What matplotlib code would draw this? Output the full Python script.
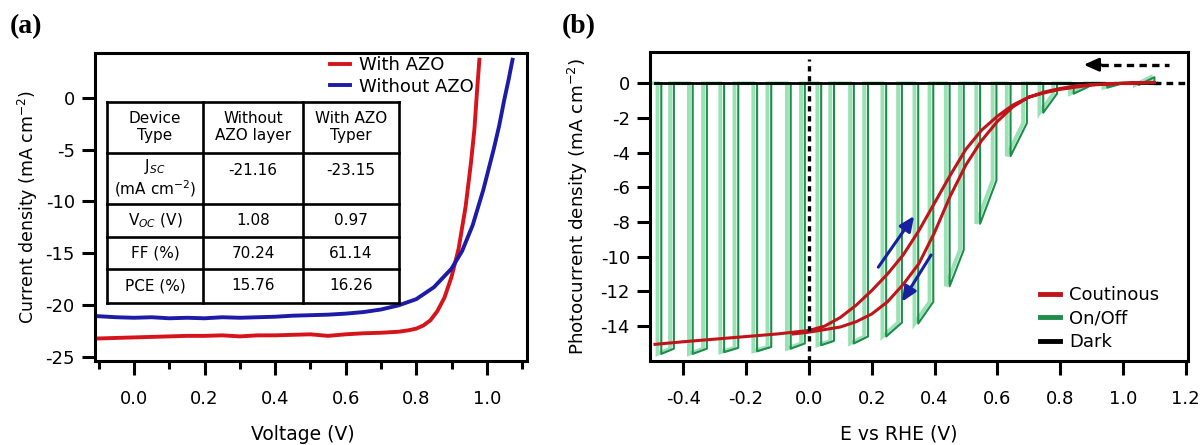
import matplotlib
matplotlib.use("Agg")
import matplotlib.pyplot as plt
from matplotlib.lines import Line2D

plt.rcParams['font.family'] = ['DejaVu Sans']
plt.rcParams['axes.unicode_minus'] = False

# ---------------- data: panel (a) ----------------
v_with = [-0.10, -0.05, 0.00, 0.05, 0.10, 0.15, 0.20, 0.25, 0.30, 0.35, 0.40, 0.45,
          0.50, 0.55, 0.60, 0.65, 0.70, 0.75, 0.78, 0.80, 0.82, 0.84, 0.86, 0.88,
          0.90, 0.92, 0.94, 0.955, 0.965, 0.972, 0.979]
j_with = [-23.25, -23.2, -23.15, -23.1, -23.05, -23.0, -23.0, -22.95, -23.05, -22.95,
          -22.95, -22.9, -22.85, -23.0, -22.85, -22.75, -22.7, -22.6, -22.45, -22.3,
          -22.0, -21.5, -20.6, -19.3, -17.3, -14.6, -10.5, -6.3, -3.0, 0.5, 3.7]

v_without = [-0.10, -0.05, 0.00, 0.05, 0.10, 0.15, 0.20, 0.25, 0.30, 0.35, 0.40, 0.45,
             0.50, 0.55, 0.60, 0.65, 0.70, 0.75, 0.80, 0.85, 0.90, 0.93, 0.96, 0.99,
             1.02, 1.035, 1.05, 1.062, 1.073]
j_without = [-21.1, -21.2, -21.25, -21.2, -21.3, -21.25, -21.3, -21.2, -21.25, -21.2,
             -21.15, -21.05, -21.0, -20.95, -20.85, -20.7, -20.45, -20.05, -19.45, -18.3,
             -16.5, -14.8, -12.3, -8.9, -4.9, -2.7, -0.1, 1.8, 3.7]

table_rows = [
    ["Device\nType", "Without\nAZO layer", "With AZO\nTyper"],
    ["J$_{SC}$\n(mA cm$^{-2}$)", "-21.16", "-23.15"],
    ["V$_{OC}$ (V)", "1.08", "0.97"],
    ["FF (%)", "70.24", "61.14"],
    ["PCE (%)", "15.76", "16.26"],
]

# ---------------- data: panel (b) ----------------
# continuous scan, forward branch (upper/left) and return branch (lower/right)
e_fwd = [-0.49, -0.4, -0.3, -0.2, -0.1, 0.0, 0.05, 0.1, 0.15, 0.2, 0.25, 0.3, 0.35,
         0.4, 0.45, 0.5, 0.55, 0.6, 0.65, 0.7, 0.75, 0.8, 0.85, 0.9, 1.0, 1.1]
j_fwd = [-15.05, -14.9, -14.75, -14.6, -14.45, -14.25, -14.0, -13.5, -12.8, -11.95,
         -11.0, -9.9, -8.5, -6.9, -5.3, -3.8, -2.7, -1.9, -1.25, -0.8, -0.5, -0.3,
         -0.15, -0.08, 0.0, 0.05]
e_rev = [1.1, 1.0, 0.9, 0.8, 0.75, 0.7, 0.65, 0.6, 0.55, 0.5, 0.45, 0.4, 0.35, 0.3,
         0.25, 0.2, 0.15, 0.1, 0.05, 0.0, -0.05]
j_rev = [0.05, 0.0, -0.1, -0.35, -0.55, -0.8, -1.35, -2.2, -3.3, -4.7, -6.5, -8.6,
         -10.4, -11.6, -12.6, -13.3, -13.75, -14.05, -14.2, -14.35, -14.45]

# chopped-light pulses: left edge potential / current, right edge potential / current
pulse_xl = [-0.47, -0.37, -0.27, -0.165, -0.058, 0.039, 0.143, 0.246, 0.348, 0.448,
            0.545, 0.642, 0.746, 0.843, 0.95, 1.05]
pulse_jl = [-15.6, -15.6, -15.5, -15.45, -15.3, -15.1, -15.0, -14.6, -13.85, -11.7,
            -8.1, -4.2, -1.7, -0.6, -0.25, -0.1]
pulse_xr = [-0.43, -0.325, -0.225, -0.12, -0.013, 0.080, 0.188, 0.296, 0.396, 0.493,
            0.597, 0.694, 0.79, 0.89, 0.99, 1.1]
pulse_jr = [-15.3, -15.3, -15.25, -15.2, -15.0, -14.85, -14.6, -13.8, -12.6, -9.6,
            -5.6, -2.3, -0.6, -0.2, -0.05, 0.35]

e_dark = [-0.49, 1.1]
j_dark = [0.0, 0.0]

# ---------------- figure ----------------
W, H = 1200, 445
fig = plt.figure(figsize=(12, 4.45), dpi=100)


def fx(px):
    return px / W


def fy(py):
    return 1 - py / H


red_a = '#d5141c'
blue_a = '#1c1ca8'
red_b = '#c0141a'
green_d = '#1e8c4b'
green_l = '#6fd596'
navy = '#1820a0'

# ----- panel (a) -----
ax1 = fig.add_axes([fx(95), fy(361), fx(527) - fx(95), fy(52.7) - fy(361)])
ax1.plot(v_with, j_with, color=red_a, lw=2.8, label='With AZO', zorder=3)
ax1.plot(v_without, j_without, color=blue_a, lw=2.8, label='Without AZO', zorder=3)
ax1.set_xlim(-0.1106, 1.114)
ax1.set_ylim(-25.43, 4.38)
ax1.set_xticks([0.0, 0.2, 0.4, 0.6, 0.8, 1.0])
ax1.set_xticklabels(['0.0', '0.2', '0.4', '0.6', '0.8', '1.0'])
ax1.set_xticks([-0.1, 0.1, 0.3, 0.5, 0.7, 0.9, 1.1], minor=True)
ax1.set_yticks([0, -5, -10, -15, -20, -25])
ax1.set_yticklabels(['0', '-5', '-10', '-15', '-20', '-25'])

# table
tx = [106.7, 203.3, 302.7, 399]
ty = [101.7, 152.7, 204, 236.7, 269.3, 302.7]


def ax1_x(px):
    return (px - 95) / (527 - 95)


def ax1_y(py):
    return (361 - py) / (361 - 52.7)


tr = ax1.transAxes
for x in tx:
    ax1.plot([ax1_x(x)] * 2, [ax1_y(ty[0]), ax1_y(ty[-1])], color='black', lw=1.9,
             transform=tr, zorder=5, solid_capstyle='projecting')
for y in ty:
    ax1.plot([ax1_x(tx[0]), ax1_x(tx[-1])], [ax1_y(y)] * 2, color='black', lw=1.9,
             transform=tr, zorder=5, solid_capstyle='projecting')
for r, row in enumerate(table_rows):
    for c, txt in enumerate(row):
        xc = ax1_x((tx[c] + tx[c + 1]) / 2)
        if r == 1 and c > 0:
            yc = ax1_y(ty[r] + 18)
        else:
            yc = ax1_y((ty[r] + ty[r + 1]) / 2)
        ax1.text(xc, yc, txt, transform=tr, ha='center', va='center', fontsize=11,
                 linespacing=1.15, zorder=6)

ax1.legend(loc='upper left', bbox_to_anchor=(ax1_x(330), ax1_y(56)),
           frameon=False, fontsize=13, handlelength=1.1, handletextpad=0.5,
           labelspacing=0.2, borderpad=0, borderaxespad=0)

# ----- panel (b) -----
ax2 = fig.add_axes([fx(650), fy(361), fx(1188) - fx(650), fy(51.7) - fy(361)])

# chopped trace path
px_path = [-0.49]
py_path = [0.0]
for xl, jl, xr, jr in zip(pulse_xl, pulse_jl, pulse_xr, pulse_jr):
    px_path += [xl, xl, xr, xr]
    py_path += [0.0, jl, jr, 0.0]
px_path.append(1.12)
py_path.append(0.0)

ax2.plot([x - 0.012 for x in px_path], py_path, color=green_l, lw=2.8, alpha=0.7,
         zorder=2, solid_joinstyle='miter')
ax2.plot(px_path, py_path, color=green_d, lw=1.5, zorder=3)

# dark
ax2.plot(e_dark, j_dark, color='black', lw=2.0, zorder=4)
ax2.plot([1.1, 1.207], [0, 0], color='black', lw=2.4, ls=(0, (2.0, 1.6)), zorder=4)
ax2.axvline(0, ymin=0, ymax=(1.4 + 16.01) / (1.82 + 16.01), color='black', lw=2.4,
            ls=(0, (1.6, 1.4)), zorder=6)

# continuous
ax2.plot(e_fwd + e_rev, j_fwd + j_rev, color=red_b, lw=2.2, zorder=5)

# blue hysteresis arrows
ax2.annotate('', xy=(0.335, -7.65), xytext=(0.221, -10.6),
             arrowprops=dict(arrowstyle='-|>,head_length=0.9,head_width=0.4',
                             color=navy, lw=2.2, shrinkA=0, shrinkB=0), zorder=7)
ax2.annotate('', xy=(0.296, -12.6), xytext=(0.389, -9.9),
             arrowprops=dict(arrowstyle='-|>,head_length=0.9,head_width=0.4',
                             color=navy, lw=2.2, shrinkA=0, shrinkB=0), zorder=7)

# scan-direction arrow
ax2.plot([0.93, 1.145], [1.07, 1.07], color='black', lw=2.4, ls=(0, (2.2, 1.6)), zorder=6)
ax2.annotate('', xy=(0.875, 1.07), xytext=(0.93, 1.07),
             arrowprops=dict(arrowstyle='-|>,head_length=0.9,head_width=0.4',
                             color='black', lw=2.0, shrinkA=0, shrinkB=0), zorder=6)

ax2.set_xlim(-0.506, 1.207)
ax2.set_ylim(-16.01, 1.82)
ax2.set_xticks([-0.4, -0.2, 0.0, 0.2, 0.4, 0.6, 0.8, 1.0, 1.2])
ax2.set_xticklabels(['-0.4', '-0.2', '0.0', '0.2', '0.4', '0.6', '0.8', '1.0', '1.2'])
ax2.set_yticks([0, -2, -4, -6, -8, -10, -12, -14])
ax2.set_yticklabels(['0', '-2', '-4', '-6', '-8', '-10', '-12', '-14'])

handles = [Line2D([], [], color=red_b, lw=3.5),
           Line2D([], [], color=green_d, lw=3.5),
           Line2D([], [], color='black', lw=3.5)]


def ax2_x(px):
    return (px - 650) / (1188 - 650)


def ax2_y(py):
    return (361 - py) / (361 - 51.7)


ax2.legend(handles, ['Coutinous', 'On/Off', 'Dark'], loc='upper left',
           bbox_to_anchor=(ax2_x(1040), ax2_y(286)), frameon=False, fontsize=13,
           handlelength=1.1, handletextpad=0.5, labelspacing=0.3, borderpad=0,
           borderaxespad=0)

for ax in (ax1, ax2):
    for s in ax.spines.values():
        s.set_linewidth(2.2)
    ax.tick_params(axis='both', which='major', direction='out', width=2.2,
                   labelsize=13)
    ax.tick_params(axis='x', which='major', length=10, pad=11)
    ax.tick_params(axis='x', which='minor', length=6, width=2.2)
    ax.tick_params(axis='y', which='major', length=9.5, pad=5)

# axis labels
fig.text(fx(28), fy(207), 'Current density (mA cm$^{-2}$)', rotation=90,
         ha='center', va='center', fontsize=12.5)
fig.text(fx(303), fy(434), 'Voltage (V)', ha='center', va='center', fontsize=13.5)
fig.text(fx(578), fy(206), 'Photocurrent density (mA cm$^{-2}$)', rotation=90,
         ha='center', va='center', fontsize=13.2)
fig.text(fx(899), fy(434), 'E vs RHE (V)', ha='center', va='center', fontsize=13.5)

fig.text(fx(10), fy(27), '(a)', ha='left', va='center', fontsize=20,
         fontweight='bold', family='Liberation Serif')
fig.text(fx(562), fy(27), '(b)', ha='left', va='center', fontsize=20,
         fontweight='bold', family='Liberation Serif')

fig.savefig('out.png', dpi=100)
